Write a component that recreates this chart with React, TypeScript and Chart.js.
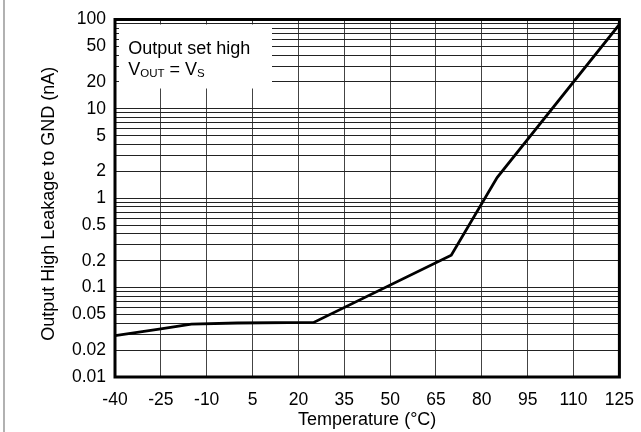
import { useEffect, useRef } from 'react';
import { Chart, registerables } from 'chart.js';

Chart.register(...registerables);

const temperatures = [-40, -25, -15, 0, 25, 70, 85, 125];
const leakage = [0.029, 0.0345, 0.039, 0.0402, 0.0408, 0.23, 1.7, 88];

const xTickValues = [-40, -25, -10, 5, 20, 35, 50, 65, 80, 95, 110, 125];
const yLabelValues = [0.01, 0.02, 0.05, 0.1, 0.2, 0.5, 1, 2, 5, 10, 20, 50, 100];
const yGridValues = [
  0.01, 0.02, 0.03, 0.04, 0.05, 0.06, 0.07, 0.08, 0.09,
  0.1, 0.2, 0.3, 0.4, 0.5, 0.6, 0.7, 0.8, 0.9,
  1, 2, 3, 4, 5, 6, 7, 8, 9,
  10, 20, 30, 40, 50, 60, 70, 80, 90, 100,
];

const xTitle = 'Temperature (°C)';
const yTitle = 'Output High Leakage to GND (nA)';
const noteLine1 = 'Output set high';
const noteParts = [
  { text: 'V', sub: false },
  { text: 'OUT', sub: true },
  { text: ' = V', sub: false },
  { text: 'S', sub: true },
];

const FAMILY = "'Liberation Sans', Arial, Helvetica, sans-serif";

const decorPlugin = {
  id: 'decor',
  beforeDatasetsDraw(chart: any) {
    const { ctx, chartArea: ca } = chart;
    ctx.save();
    ctx.fillStyle = '#fff';
    ctx.fillRect(ca.left + 4, ca.top + 5, 153, 64);
    ctx.fillStyle = '#000';
    ctx.textBaseline = 'alphabetic';
    ctx.textAlign = 'left';
    ctx.font = `18px ${FAMILY}`;
    const tx = ca.left + 13.3;
    ctx.fillText(noteLine1, tx, ca.top + 34.7);
    let x = tx;
    const base = ca.top + 55.3;
    for (const p of noteParts) {
      if (p.sub) {
        ctx.font = `11.5px ${FAMILY}`;
        ctx.fillText(p.text, x, base + 2.3);
      } else {
        ctx.font = `18px ${FAMILY}`;
        ctx.fillText(p.text, x, base);
      }
      x += ctx.measureText(p.text).width;
    }
    ctx.restore();
  },
  afterDraw(chart: any) {
    const { ctx, chartArea: ca } = chart;
    ctx.save();
    ctx.strokeStyle = '#000';
    ctx.lineWidth = 3;
    ctx.strokeRect(ca.left, ca.top, ca.right - ca.left, ca.bottom - ca.top);
    ctx.strokeStyle = '#888';
    ctx.lineWidth = 1.3;
    ctx.beginPath();
    ctx.moveTo(4, 0);
    ctx.lineTo(4, chart.height);
    ctx.stroke();
    ctx.fillStyle = '#000';
    ctx.font = `18px ${FAMILY}`;
    ctx.textAlign = 'center';
    ctx.textBaseline = 'alphabetic';
    ctx.fillText(xTitle, (ca.left + ca.right) / 2, ca.bottom + 48);
    ctx.translate(53.5, (ca.top + ca.bottom) / 2 + 5.5);
    ctx.rotate(-Math.PI / 2);
    ctx.fillText(yTitle, 0, 0);
    ctx.restore();
  },
};

export default function App() {
  const ref = useRef<HTMLCanvasElement | null>(null);

  useEffect(() => {
    document.body.style.margin = '0';
    if (!ref.current) return;
    const tickFont = { family: FAMILY, size: 17.5 };
    const chart = new Chart(ref.current, {
      type: 'line',
      data: {
        datasets: [
          {
            data: temperatures.map((t, i) => ({ x: t, y: leakage[i] })),
            borderColor: '#000',
            borderWidth: 2.8,
            pointRadius: 0,
            tension: 0,
            fill: false,
          },
        ],
      },
      options: {
        animation: false,
        responsive: true,
        maintainAspectRatio: false,
        layout: { padding: { left: 0, top: 17, right: 19, bottom: 0 } },
        plugins: { legend: { display: false }, tooltip: { enabled: false } },
        scales: {
          x: {
            type: 'linear',
            min: -40,
            max: 125,
            afterBuildTicks: (s: any) => {
              s.ticks = xTickValues.map((v) => ({ value: v }));
            },
            afterFit: (s: any) => {
              s.height = 55;
            },
            ticks: {
              font: tickFont,
              color: '#000',
              padding: 7,
              maxRotation: 0,
              autoSkip: false,
            },
            grid: {
              color: '#444',
              lineWidth: 1,
              drawTicks: true,
              tickLength: 6,
              tickColor: 'rgba(0,0,0,0)',
            },
            border: { display: false },
          },
          y: {
            type: 'logarithmic',
            min: 0.01,
            max: 100,
            afterBuildTicks: (s: any) => {
              s.ticks = yGridValues.map((v) => ({ value: v }));
            },
            afterFit: (s: any) => {
              s.width = 115;
            },
            ticks: {
              font: tickFont,
              color: '#000',
              padding: 9,
              autoSkip: false,
              callback: (v: any) => (yLabelValues.includes(v) ? String(v) : ''),
            },
            grid: { color: '#222', lineWidth: 1, drawTicks: false },
            border: { display: false },
          },
        },
      },
      plugins: [decorPlugin],
    } as any);
    return () => chart.destroy();
  }, []);

  return (
    <div style={{ width: 641, height: 432, position: 'relative' }}>
      <canvas ref={ref} />
    </div>
  );
}
